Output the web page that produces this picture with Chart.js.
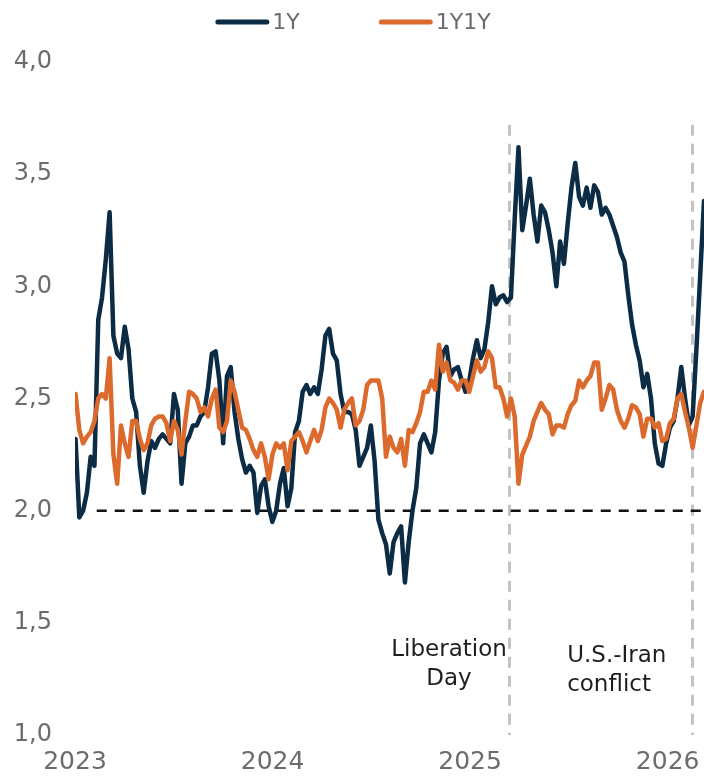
<!DOCTYPE html>
<html>
<head>
<meta charset="utf-8">
<script src="https://cdn.jsdelivr.net/npm/chart.js@4.4.1/dist/chart.umd.min.js"></script>
<style>
  html, body { margin: 0; padding: 0; background: #ffffff; }
  #wrap { width: 704px; height: 776px; position: relative; }
</style>
</head>
<body>
<div id="wrap"><canvas id="chart"></canvas></div>
<script>
// Weekly observations, first one on 2 Jan 2023 (x is expressed in decimal years)
const startYear = 2023.0027;
const weekInYears = 7 / 365.25;

// 1-year rate (%)
const oneYear = [
  2.32,1.97,2.00,2.08,2.24,2.20,2.85,2.95,3.12,3.33,
  2.78,2.70,2.68,2.82,2.72,2.50,2.44,2.20,2.08,2.22,
  2.31,2.28,2.32,2.34,2.32,2.30,2.52,2.45,2.12,2.30,
  2.33,2.38,2.38,2.42,2.44,2.55,2.70,2.71,2.58,2.30,
  2.60,2.64,2.44,2.32,2.23,2.17,2.20,2.17,1.99,2.11,
  2.14,2.02,1.95,2.00,2.12,2.19,2.02,2.10,2.35,2.40,
  2.53,2.56,2.52,2.55,2.52,2.63,2.78,2.81,2.70,2.67,
  2.52,2.44,2.44,2.43,2.36,2.20,2.24,2.28,2.38,2.22,
  1.96,1.90,1.85,1.72,1.86,1.90,1.93,1.68,1.86,2.00,
  2.10,2.30,2.34,2.30,2.26,2.35,2.58,2.70,2.73,2.60,
  2.63,2.64,2.58,2.53,2.58,2.68,2.76,2.68,2.72,2.84,
  3.00,2.92,2.95,2.96,2.93,2.95,3.30,3.62,3.25,3.36,
  3.48,3.32,3.20,3.36,3.33,3.25,3.15,3.00,3.20,3.10,
  3.28,3.44,3.55,3.40,3.36,3.44,3.35,3.45,3.42,3.32,
  3.35,3.32,3.27,3.22,3.15,3.11,2.96,2.83,2.74,2.67,
  2.55,2.61,2.50,2.30,2.21,2.20,2.30,2.37,2.40,2.50,
  2.64,2.50,2.38,2.42,2.72,3.05,3.38
];

// 1-year rate one year forward (%)
const oneYearOneYear = [
  2.52,2.36,2.30,2.33,2.35,2.40,2.50,2.52,2.50,2.68,
  2.25,2.12,2.38,2.30,2.24,2.40,2.40,2.32,2.27,2.30,
  2.38,2.41,2.42,2.42,2.39,2.31,2.40,2.36,2.25,2.40,
  2.53,2.52,2.50,2.44,2.46,2.42,2.50,2.54,2.37,2.35,
  2.40,2.58,2.53,2.45,2.37,2.36,2.32,2.27,2.24,2.30,
  2.24,2.14,2.25,2.30,2.28,2.30,2.18,2.31,2.33,2.35,
  2.31,2.26,2.31,2.36,2.31,2.36,2.46,2.50,2.48,2.45,
  2.37,2.45,2.48,2.50,2.38,2.40,2.45,2.56,2.58,2.58,
  2.58,2.50,2.24,2.33,2.28,2.26,2.32,2.20,2.36,2.35,
  2.39,2.44,2.53,2.53,2.58,2.54,2.74,2.62,2.66,2.58,
  2.57,2.54,2.58,2.58,2.53,2.60,2.67,2.62,2.64,2.71,
  2.68,2.55,2.55,2.50,2.42,2.50,2.42,2.12,2.25,2.29,
  2.33,2.40,2.44,2.48,2.45,2.43,2.34,2.38,2.38,2.37,
  2.43,2.47,2.49,2.58,2.55,2.58,2.60,2.66,2.66,2.45,
  2.50,2.56,2.54,2.45,2.40,2.37,2.41,2.47,2.46,2.43,
  2.33,2.41,2.41,2.37,2.39,2.31,2.32,2.39,2.41,2.50,
  2.52,2.44,2.37,2.28,2.38,2.48,2.53
];

const yearTicks = [2023, 2024, 2025, 2026];
const valueMin = 1.0;
const valueMax = 4.0;
const valueStep = 0.5;

// 2% reference level
const targetLevel = 2.0;
const targetFrom = 2023.11;

// Event markers
const eventDates = [2025.197, 2026.124];
const eventNames = [['Liberation', 'Day'], ['U.S.-Iran', 'conflict']];
const eventLineTop = 3.72;

// Placement of the event captions (pixels relative to the marker / canvas)
const captionLayout = [
  { dx: -60, align: 'center', y: 650 },
  { dx: -125, align: 'left', y: 656 }
];

const FONT = '"DejaVu Sans", sans-serif';
const NAVY = '#0c2b44';
const ORANGE = '#dc6a2d';
const TEXT_GREY = '#6c6c6c';

const toPoints = (arr) => arr.map((v, i) => ({ x: startYear + i * weekInYears, y: v }));
const lastX = startYear + (oneYear.length - 1) * weekInYears;

const eventMarkers = {
  id: 'eventMarkers',
  beforeDatasetsDraw(chart) {
    const { ctx, scales: { x, y } } = chart;
    ctx.save();
    ctx.strokeStyle = '#c3c3c3';
    ctx.lineWidth = 3;
    ctx.setLineDash([11, 8]);
    eventDates.forEach((d) => {
      const px = Math.round(x.getPixelForValue(d)) + 0.5;
      ctx.beginPath();
      ctx.moveTo(px, y.getPixelForValue(eventLineTop));
      ctx.lineTo(px, y.getPixelForValue(valueMin));
      ctx.stroke();
    });
    ctx.restore();
  },
  afterDatasetsDraw(chart) {
    const { ctx, scales: { x } } = chart;
    ctx.save();
    ctx.fillStyle = '#1e1e1e';
    ctx.font = '23px ' + FONT;
    ctx.textBaseline = 'middle';
    eventDates.forEach((d, i) => {
      const px = x.getPixelForValue(d);
      const lay = captionLayout[i];
      ctx.textAlign = lay.align;
      eventNames[i].forEach((line, j) => {
        ctx.fillText(line, px + lay.dx, lay.y + j * 29);
      });
    });
    ctx.restore();
  }
};

const seriesKey = {
  id: 'seriesKey',
  afterDraw(chart) {
    const ctx = chart.ctx;
    const items = chart.data.datasets.filter((d) => d.inKey);
    const lineLen = 54, gapText = 3, gapItem = 79, cy = 22;
    ctx.save();
    ctx.font = '22px ' + FONT;
    const widths = items.map((d) => ctx.measureText(d.label).width);
    const total = widths.reduce((a, w) => a + lineLen + gapText + w, 0) + gapItem * (items.length - 1);
    let x0 = chart.width / 2 - total / 2 + 1;
    items.forEach((d, i) => {
      ctx.strokeStyle = d.borderColor;
      ctx.lineWidth = 5;
      ctx.lineCap = 'round';
      ctx.setLineDash([]);
      ctx.beginPath();
      ctx.moveTo(x0 + 2.5, cy);
      ctx.lineTo(x0 + lineLen - 2.5, cy);
      ctx.stroke();
      ctx.fillStyle = TEXT_GREY;
      ctx.textAlign = 'left';
      ctx.textBaseline = 'middle';
      ctx.fillText(d.label, x0 + lineLen + gapText, cy + 1);
      x0 += lineLen + gapText + widths[i] + gapItem;
    });
    ctx.restore();
  }
};

new Chart(document.getElementById('chart'), {
  type: 'line',
  data: {
    datasets: [
      {
        label: '1Y',
        inKey: true,
        data: toPoints(oneYear),
        borderColor: NAVY,
        borderWidth: 4.5,
        pointRadius: 0,
        borderJoinStyle: 'round',
        borderCapStyle: 'round',
        order: 1
      },
      {
        label: '1Y1Y',
        inKey: true,
        data: toPoints(oneYearOneYear),
        borderColor: ORANGE,
        borderWidth: 4.5,
        pointRadius: 0,
        borderJoinStyle: 'round',
        borderCapStyle: 'round',
        order: 0
      },
      {
        label: '2%',
        inKey: false,
        data: [{ x: targetFrom, y: targetLevel }, { x: lastX, y: targetLevel }],
        borderColor: '#111111',
        borderWidth: 2.5,
        borderDash: [10, 8],
        pointRadius: 0,
        order: 2
      }
    ]
  },
  options: {
    responsive: true,
    maintainAspectRatio: false,
    animation: false,
    devicePixelRatio: 1,
    layout: { padding: { top: 62, left: 0, right: 0, bottom: 0 } },
    plugins: {
      legend: { display: false },
      tooltip: { enabled: false }
    },
    scales: {
      x: {
        type: 'linear',
        min: 2023,
        max: lastX,
        grid: { display: false, drawTicks: false },
        border: { display: false },
        afterBuildTicks: (s) => { s.ticks = yearTicks.map((v) => ({ value: v })); },
        afterFit: (s) => { s.height = 41; s.paddingLeft = 0; s.paddingRight = 0; },
        ticks: {
          padding: 12,
          maxRotation: 0,
          autoSkip: false,
          color: TEXT_GREY,
          font: { family: FONT, size: 25 },
          callback: (v) => String(v)
        }
      },
      y: {
        min: valueMin,
        max: valueMax,
        grid: { display: false, drawTicks: false },
        border: { display: false },
        afterFit: (s) => { s.width = 75; },
        ticks: {
          stepSize: valueStep,
          padding: 23,
          color: TEXT_GREY,
          font: { family: FONT, size: 24 },
          callback: (v) => v.toFixed(1).replace('.', ',')
        }
      }
    }
  },
  plugins: [eventMarkers, seriesKey]
});
</script>
</body>
</html>
